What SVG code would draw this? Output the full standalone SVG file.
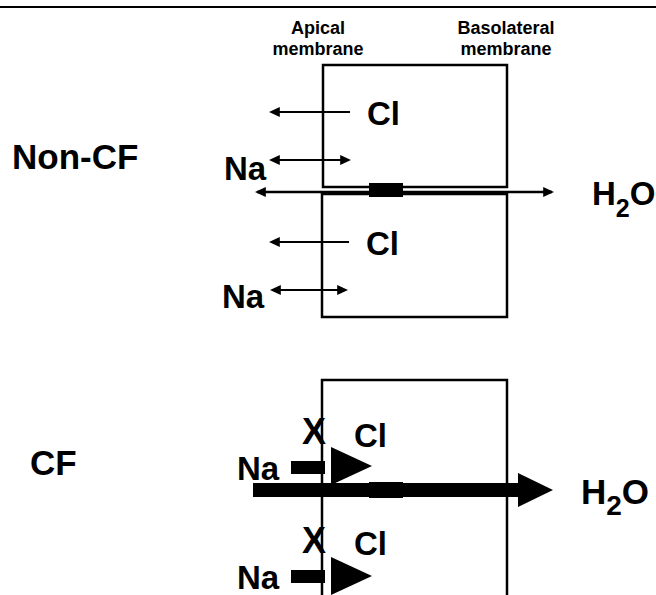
<svg xmlns="http://www.w3.org/2000/svg" width="656" height="595" viewBox="0 0 656 595">
<defs>
<style>
text{font-family:"Liberation Sans",Arial,sans-serif;font-weight:bold;fill:#000}
.big{font-size:33px}
.title{font-size:35px}
.mem{font-size:18px;text-anchor:middle}
.box{fill:none;stroke:#000;stroke-width:2.5}
.thin{fill:none;stroke:#000;stroke-width:2}
.thick{fill:#000;stroke:none}
</style>
<marker id="ah" viewBox="0 0 10 10" refX="8" refY="5" markerWidth="11" markerHeight="10" markerUnits="userSpaceOnUse" orient="auto-start-reverse" preserveAspectRatio="none">
<path d="M0,0 L10,5 L0,10 z" fill="#000"/>
</marker>
</defs>
<rect width="656" height="595" fill="#fff"/>
<line x1="0" y1="7" x2="656" y2="7" stroke="#000" stroke-width="2"/>

<g id="labels">
<text class="mem" x="318" y="34">Apical</text>
<text class="mem" x="318" y="55">membrane</text>
<text class="mem" x="506" y="34">Basolateral</text>
<text class="mem" x="506" y="55">membrane</text>
<text class="title" x="12" y="169">Non-CF</text>
<text class="title" x="30" y="475">CF</text>
</g>

<g id="noncf-cell-upper"><rect class="box" x="323" y="65" width="184" height="122"/></g>
<g id="noncf-cell-lower"><rect class="box" x="322" y="194" width="185" height="123"/></g>
<g id="cf-cell"><rect class="box" x="322" y="380" width="185" height="230"/></g>

<g id="connectors">
<line class="thin" x1="350" y1="112" x2="271" y2="112" marker-end="url(#ah)"/>
<line class="thin" x1="271" y1="160" x2="349" y2="160" marker-start="url(#ah)" marker-end="url(#ah)"/>
<line x1="257" y1="192" x2="552" y2="192" stroke="#000" stroke-width="2.5" marker-start="url(#ah)" marker-end="url(#ah)"/>
<line class="thin" x1="349" y1="242" x2="271" y2="242" marker-end="url(#ah)"/>
<line class="thin" x1="272" y1="290" x2="346" y2="290" marker-start="url(#ah)" marker-end="url(#ah)"/>
<rect class="thick" x="369" y="183" width="34" height="14"/>

<rect class="thick" x="291" y="461" width="34" height="13"/>
<polygon class="thick" points="331,447 372,466 331,485"/>
<rect class="thick" x="253" y="483" width="266" height="14"/>
<polygon class="thick" points="518,473 553,490 518,507"/>
<rect class="thick" x="369" y="482" width="34" height="16"/>
<rect class="thick" x="291" y="570" width="34" height="13"/>
<polygon class="thick" points="331,557 372,576 331,595"/>
</g>

<g id="ions">
<text class="big" x="367" y="125">Cl</text>
<text class="big" x="224" y="180">Na</text>
<text class="big" x="366" y="255">Cl</text>
<text class="big" x="222" y="308">Na</text>
<text style="font-size:33px" x="592" y="205">H<tspan font-size="25" dy="12">2</tspan><tspan dy="-12">O</tspan></text>
<text style="font-size:36px" x="302" y="444">X</text>
<text class="big" x="354" y="447">Cl</text>
<text class="big" x="237" y="480">Na</text>
<text style="font-size:36px" x="302" y="553">X</text>
<text class="big" x="354" y="555">Cl</text>
<text class="big" x="237" y="589">Na</text>
<text style="font-size:35px" x="581" y="504">H<tspan font-size="28" dy="11">2</tspan><tspan dy="-11">O</tspan></text>
</g>
</svg>
